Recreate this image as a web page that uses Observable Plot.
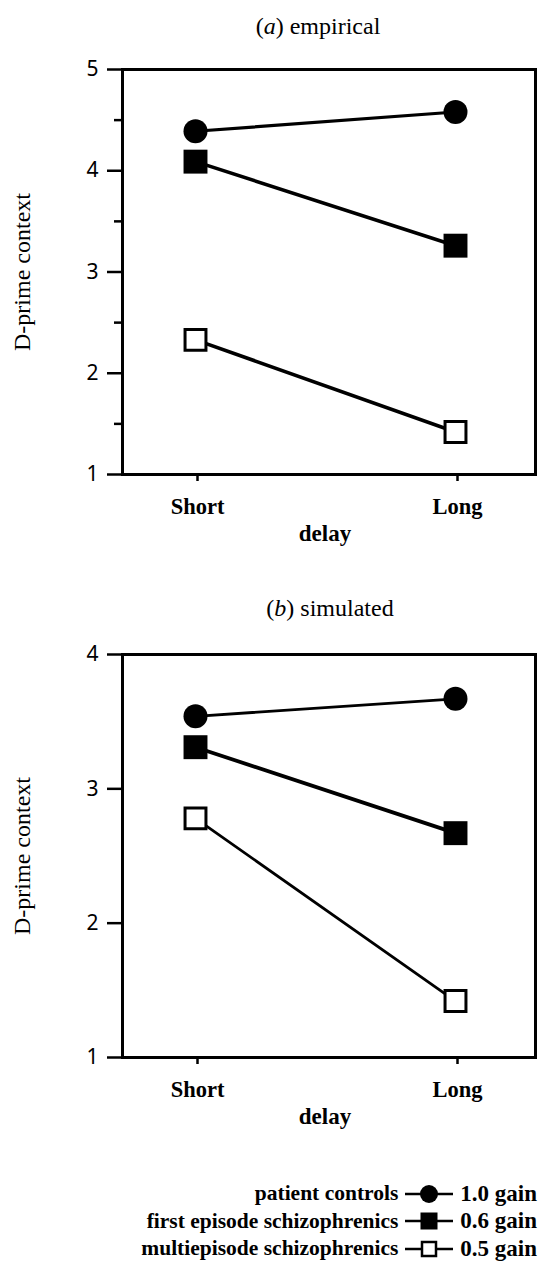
<!DOCTYPE html>
<html>
<head>
<meta charset="utf-8">
<script src="https://cdn.jsdelivr.net/npm/d3@7"></script>
<script src="https://cdn.jsdelivr.net/npm/@observablehq/plot@0.6"></script>
<style>
  body { margin: 0; background: #fff; }
  #page { position: relative; width: 539px; height: 1269px; overflow: hidden;
          font-family: "Liberation Serif", "Times New Roman", serif; color: #000; background: #fff; }
  .panel { position: absolute; left: 0; }
  .title { position: absolute; font-size: 24px; line-height: 24px; white-space: nowrap; transform: translateX(-50%); }
  #legend { position: absolute; right: 2px; top: 1180px; display: grid;
            grid-template-columns: auto 50px auto; grid-auto-rows: 27.5px; column-gap: 6px;
            align-items: center; font-weight: bold; }
  #legend .lab { text-align: right; white-space: nowrap; font-size: 21.5px; }
  #legend .gain { white-space: nowrap; font-size: 23px; }
  #legend svg { display: block; }
</style>
</head>
<body>
<div id="page"></div>
<script>
// ---- data ----
const delays = ["Short", "Long"];
const groups = ["patient controls", "first episode schizophrenics", "multiepisode schizophrenics"];
const gains = ["1.0 gain", "0.6 gain", "0.5 gain"];

// panel (a) empirical: [Short, Long]
const empiricalControls = [4.39, 4.58];
const empiricalFirst = [4.09, 3.26];
const empiricalMulti = [2.33, 1.42];

// panel (b) simulated: [Short, Long]
const simulatedControls = [3.54, 3.67];
const simulatedFirst = [3.31, 2.67];
const simulatedMulti = [2.78, 1.42];

const yTicksA = [1, 2, 3, 4, 5];
const yMinorA = [1.5, 2.5, 3.5, 4.5];
const yTicksB = [1, 2, 3, 4];

const yLabel = "D-prime context";
const xLabel = "delay";

// ---- drawing ----
const page = document.getElementById("page");

function makePanel({series, domain, ticks, minor, lineWidths, marginBottom}) {
  const rows = [];
  groups.forEach((g, gi) => delays.forEach((d, di) => rows.push({group: g, delay: d, value: series[gi][di]})));
  const sel = g => rows.filter(r => r.group === g);
  return Plot.plot({
    width: 539,
    height: 550,
    marginTop: 69,
    marginBottom,
    marginLeft: 122,
    marginRight: 4,
    style: {fontFamily: '"Liberation Serif", "Times New Roman", serif', background: "white", color: "black", overflow: "visible"},
    x: {type: "point", domain: delays, range: [195, 455], padding: 0},
    y: {domain},
    marks: [
      Plot.axisY({ticks, tickSize: 15, tickPadding: 9, strokeWidth: 2.5, fontSize: 21,
                  fontFamily: '"Noto Sans", sans-serif', label: null, tickFormat: d => String(d)}),
      minor ? Plot.axisY({ticks: minor, tickSize: 8, strokeWidth: 2.5, label: null, tickFormat: () => ""}) : null,
      Plot.axisX({tickSize: 7, tickPadding: 17, strokeWidth: 2.5, fontSize: 22.5, fontWeight: "bold", label: null, dx: 2}),
      Plot.frame({strokeWidth: 3}),
      Plot.line(sel(groups[0]), {x: "delay", y: "value", strokeWidth: lineWidths[0]}),
      Plot.line(sel(groups[1]), {x: "delay", y: "value", strokeWidth: lineWidths[1]}),
      Plot.line(sel(groups[2]), {x: "delay", y: "value", strokeWidth: lineWidths[2]}),
      Plot.dot(sel(groups[0]), {x: "delay", y: "value", r: 12, fill: "black", stroke: null}),
      Plot.dot(sel(groups[1]), {x: "delay", y: "value", symbol: "square", r: 13.5, fill: "black", stroke: null}),
      Plot.dot(sel(groups[2]), {x: "delay", y: "value", symbol: "square", r: 11.8, fill: "white", stroke: "black", strokeWidth: 3}),
      Plot.text([yLabel], {frameAnchor: "left", dx: -100, rotate: -90, textAnchor: "middle", lineAnchor: "middle", fontSize: 24}),
      Plot.text([xLabel], {frameAnchor: "bottom", dy: 59, dx: -4, textAnchor: "middle", lineAnchor: "middle", fontSize: 23, fontWeight: "bold"})
    ]
  });
}

function place(el, top) {
  const wrap = document.createElement("div");
  wrap.className = "panel";
  wrap.style.top = top + "px";
  wrap.appendChild(el);
  page.appendChild(wrap);
}

function addTitle(letter, word, cx, cy) {
  const t = document.createElement("div");
  t.className = "title";
  t.style.left = cx + "px";
  t.style.top = (cy - 12) + "px";
  t.innerHTML = "(<i>" + letter + "</i>) " + word;
  page.appendChild(t);
}

place(makePanel({
  series: [empiricalControls, empiricalFirst, empiricalMulti],
  domain: [1, 5], ticks: yTicksA, minor: yMinorA, lineWidths: [3.2, 3.6, 3.6], marginBottom: 76
}), 0);
addTitle("a", "empirical", 318, 26);

place(makePanel({
  series: [simulatedControls, simulatedFirst, simulatedMulti],
  domain: [1, 4], ticks: yTicksB, minor: null, lineWidths: [2.8, 3.8, 2.8], marginBottom: 78
}), 585);
addTitle("b", "simulated", 330, 608);

// ---- legend ----
const legend = document.createElement("div");
legend.id = "legend";
const ns = "http://www.w3.org/2000/svg";
function swatch(i) {
  const s = document.createElementNS(ns, "svg");
  s.setAttribute("width", 50); s.setAttribute("height", 24);
  let inner = '<line x1="1" x2="49" y1="12" y2="12" stroke="black" stroke-width="2.5"/>';
  if (i === 0) inner += '<circle cx="25" cy="12" r="9" fill="black"/>';
  if (i === 1) inner += '<rect x="16.5" y="3.5" width="17" height="17" fill="black"/>';
  if (i === 2) inner += '<rect x="18" y="5" width="14" height="14" fill="white" stroke="black" stroke-width="2.5"/>';
  s.innerHTML = inner;
  return s;
}
groups.forEach((g, i) => {
  const a = document.createElement("div"); a.className = "lab"; a.textContent = g;
  const b = document.createElement("div"); b.appendChild(swatch(i));
  const c = document.createElement("div"); c.className = "gain"; c.textContent = gains[i];
  legend.append(a, b, c);
});
page.appendChild(legend);
</script>
</body>
</html>
